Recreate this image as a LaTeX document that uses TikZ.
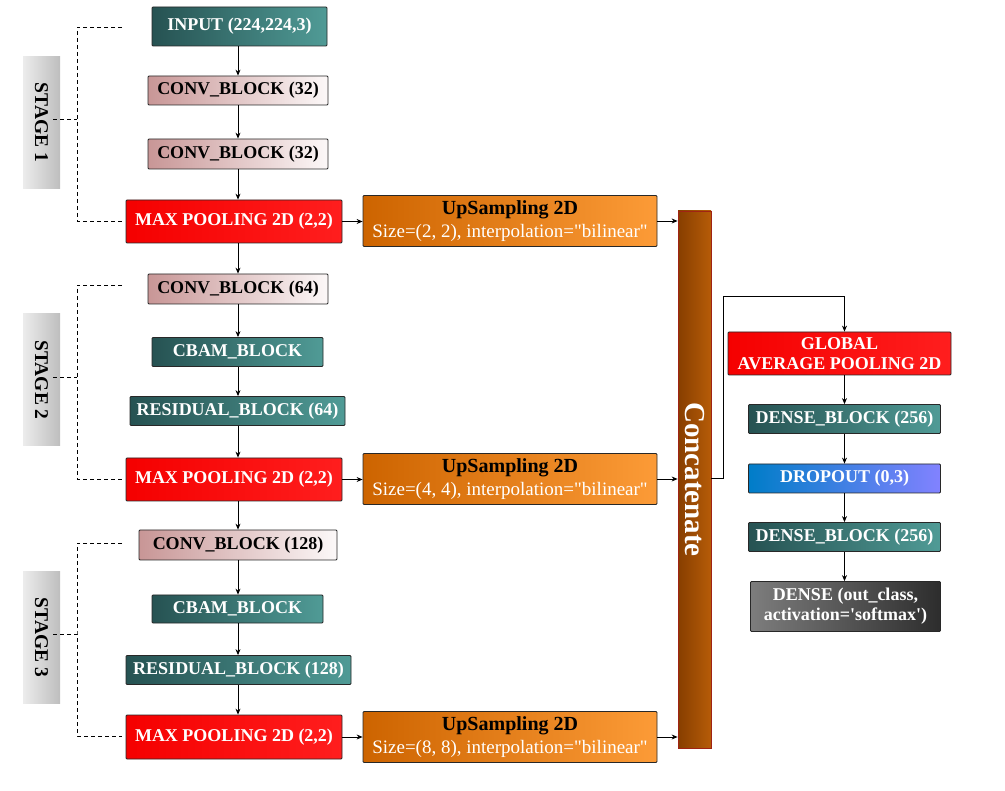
\documentclass[tikz,border=0pt]{standalone}
\usepackage{fontspec}
\usepackage{graphicx}
\setmainfont{Liberation Serif}
\usetikzlibrary{arrows.meta,positioning,calc}

\definecolor{tealL}{RGB}{38,82,82}
\definecolor{tealR}{RGB}{80,155,150}
\definecolor{convL}{RGB}{200,150,150}
\definecolor{convR}{RGB}{252,248,248}
\definecolor{poolL}{RGB}{245,0,0}
\definecolor{poolR}{RGB}{255,30,30}
\definecolor{upL}{RGB}{205,100,0}
\definecolor{upR}{RGB}{252,155,55}
\definecolor{catL}{RGB}{135,62,0}
\definecolor{catR}{RGB}{182,92,8}
\definecolor{catD}{RGB}{160,35,20}
\definecolor{dropL}{RGB}{0,125,200}
\definecolor{dropR}{RGB}{130,130,255}
\definecolor{densL}{RGB}{125,125,125}
\definecolor{densR}{RGB}{45,45,45}
\definecolor{stgL}{RGB}{236,236,236}
\definecolor{stgR}{RGB}{190,190,190}
\definecolor{edge}{RGB}{40,40,40}

\tikzset{
  blk/.style={draw=edge, line width=0.8pt, rounded corners=1pt, inner sep=0pt,
    align=center, font=\fontsize{18}{20}\selectfont\bfseries},
  tealblk/.style={blk, left color=tealL, right color=tealR, text=white},
  convblk/.style={blk, left color=convL, right color=convR, text=black},
  poolblk/.style={blk, left color=poolL, right color=poolR, text=white,
    minimum width=216pt, minimum height=43pt},
  upblk/.style={blk, left color=upL, right color=upR, text=white,
    font=\fontsize{19}{23.5}\selectfont, minimum width=294pt, minimum height=51pt},
  stgblk/.style={inner sep=0pt, left color=stgL, right color=stgR,
    minimum width=37pt, minimum height=132pt},
  arr/.style={-{Stealth[length=6pt,width=5pt]}, line width=0.8pt},
  dsh/.style={line width=0.8pt, dash pattern=on 4pt off 3pt}
}

\begin{document}
\begin{tikzpicture}[x=1pt, y=-1pt]
\useasboundingbox (0,0) rectangle (1005,791);

% Encoder column
\node[tealblk, minimum width=175pt, minimum height=39pt] (in) at (239.5, 26.5) {INPUT (224,224,3)};
\node[convblk, minimum width=180pt, minimum height=29pt] (cb1) at (238, 90.5) {CONV\_BLOCK (32)};
\node[convblk, minimum width=180pt, minimum height=30pt] (cb2) at (238, 154) {CONV\_BLOCK (32)};
\node[poolblk] (mp1) at (234, 221.5) {MAX POOLING 2D (2,2)};
\node[convblk, minimum width=180pt, minimum height=30pt] (cb3) at (238, 289) {CONV\_BLOCK (64)};
\node[tealblk, minimum width=171pt, minimum height=29pt] (cbam1) at (237.5, 352) {CBAM\_BLOCK};
\node[tealblk, minimum width=215pt, minimum height=29pt] (res1) at (237.5, 411) {RESIDUAL\_BLOCK (64)};
\node[poolblk] (mp2) at (234, 479.5) {MAX POOLING 2D (2,2)};
\node[convblk, minimum width=198pt, minimum height=30pt] (cb4) at (238, 545) {CONV\_BLOCK (128)};
\node[tealblk, minimum width=171pt, minimum height=28pt] (cbam2) at (237.5, 609) {CBAM\_BLOCK};
\node[tealblk, minimum width=225pt, minimum height=29pt] (res2) at (238.5, 670) {RESIDUAL\_BLOCK (128)};
\node[poolblk, minimum height=44pt] (mp3) at (234, 737) {MAX POOLING 2D (2,2)};

\foreach \a/\b in {in/cb1, cb1/cb2, cb2/mp1, mp1/cb3, cb3/cbam1, cbam1/res1,
                   res1/mp2, mp2/cb4, cb4/cbam2, cbam2/res2, res2/mp3} {
  \draw[arr] (cb1.north |- \a.south) -- (cb1.north |- \b.north);
}

% Upsampling branches
\foreach \i/\y in {1/221, 2/479, 3/737} {
  \pgfmathtruncatemacro{\k}{2^\i}
  \node[upblk] (up\i) at (510, \y)
    {{\fontsize{20}{23.5}\selectfont\bfseries\color{black}UpSampling 2D}\\Size=(\k, \k), interpolation=\textquotedbl bilinear\textquotedbl};
}

% Concatenate bar
\node[inner sep=0pt, draw=catD, line width=0.8pt, left color=catL, right color=catR,
  minimum width=33pt, minimum height=537pt, text=white,
  font=\fontsize{29}{31}\selectfont\bfseries] (cat) at (694.5, 479.5)
  {\rotatebox{-90}{Concatenate}};

\foreach \i in {1,2,3} {
  \draw[arr] (mp\i.east) -- (mp\i.east -| up\i.west);
  \draw[arr] (up\i.east) -- (up\i.east -| cat.west);
}

% Classifier head
\node[blk, left color=poolL, right color=poolR, text=white,
  minimum width=223pt, minimum height=43pt] (gap) at (839.5, 353.5) {GLOBAL\\AVERAGE POOLING 2D};
\node[tealblk, minimum width=192pt, minimum height=29pt] (db1) at (844.5, 419) {DENSE\_BLOCK (256)};
\node[blk, left color=dropL, right color=dropR, text=white,
  minimum width=192pt, minimum height=29pt] (drop) at (844.5, 478.5) {DROPOUT (0,3)};
\node[tealblk, minimum width=192pt, minimum height=29pt] (db2) at (844.5, 537) {DENSE\_BLOCK (256)};
\node[blk, left color=densL, right color=densR, text=white,
  minimum width=190pt, minimum height=50pt] (out) at (845.5, 606.5)
  {DENSE (out\_class,\\activation=\textquotesingle softmax\textquotesingle)};

\coordinate (jt) at (723, 296);
\draw[arr] (cat.east |- drop.center) -| (jt) -- (jt -| db1.north) -- (db1.north |- gap.north);
\foreach \a/\b in {gap/db1, db1/drop, drop/db2, db2/out} {
  \draw[arr] (db1.north |- \a.south) -- (db1.north |- \b.north);
}

% Stage labels and dashed brackets
\foreach \s/\c/\top/\mid/\bot in {1/122.5/27/119/221, 2/380/285/377/479, 3/637.5/543/634/736} {
  \node[stgblk, font=\fontsize{19.5}{21}\selectfont\bfseries] (st\s) at (41.5, \c) {\rotatebox{-90}{STAGE \s}};
  \coordinate (t\s) at (122, \top);
  \coordinate (m\s) at (77, \mid);
  \coordinate (b\s) at (122, \bot);
  \draw[dsh] (t\s) -| (m\s) |- (b\s);
  \draw[dsh] ([xshift=-7pt]st\s.east |- m\s) -- (m\s);
}

\end{tikzpicture}
\end{document}
